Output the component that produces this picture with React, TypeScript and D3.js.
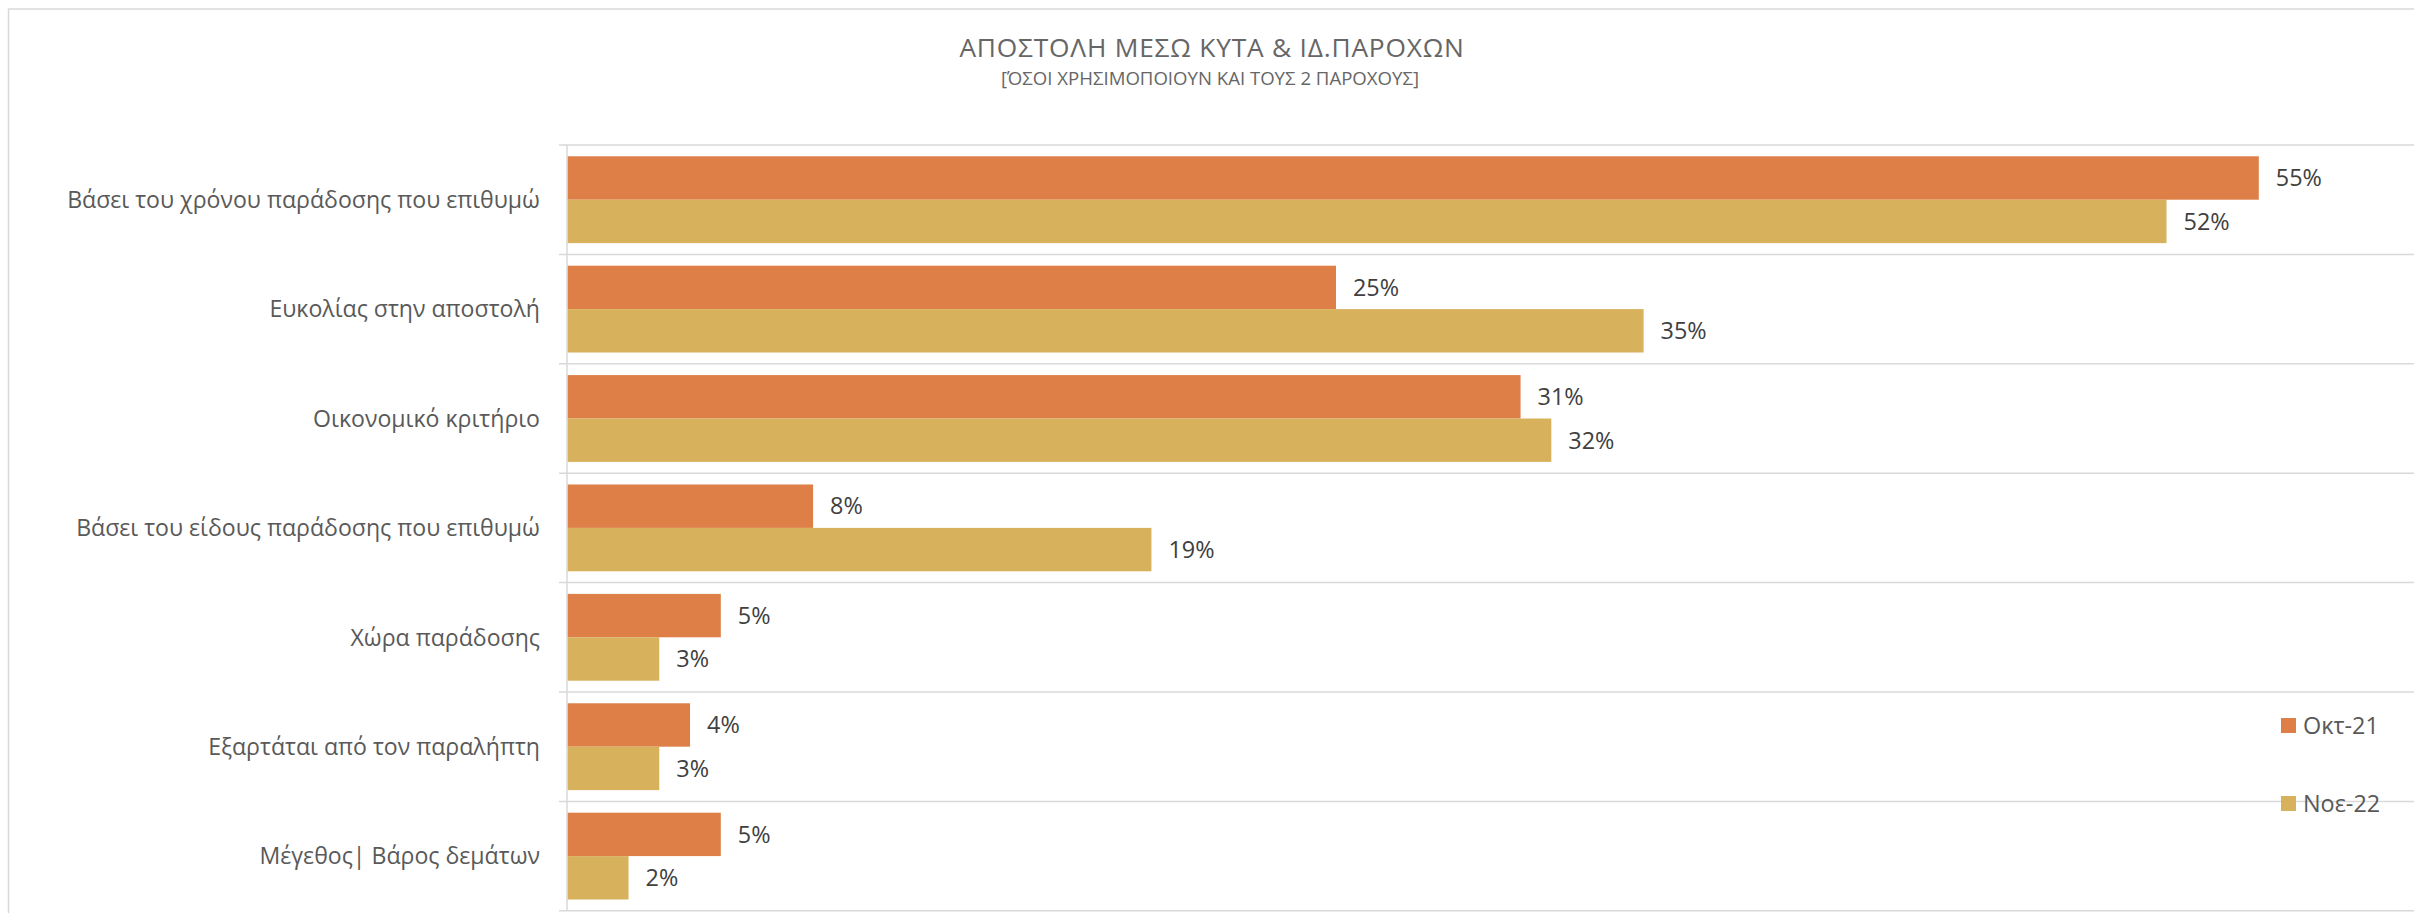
import React from "react";
import * as d3 from "d3";

const categories = [
  "Βάσει του χρόνου παράδοσης που επιθυμώ",
  "Ευκολίας στην αποστολή",
  "Οικονομικό κριτήριο",
  "Βάσει του είδους παράδοσης που επιθυμώ",
  "Χώρα παράδοσης",
  "Εξαρτάται από τον παραλήπτη",
  "Μέγεθος| Βάρος δεμάτων",
];
const seriesNames = ["Οκτ-21", "Νοε-22"];
const okt21 = [0.55, 0.25, 0.31, 0.08, 0.05, 0.04, 0.05];
const noe22 = [0.52, 0.35, 0.32, 0.19, 0.03, 0.03, 0.02];
const seriesColors = ["#DD7F47", "#D8B15D"];
const title = "ΑΠΟΣΤΟΛΗ ΜΕΣΩ ΚΥΤΑ & ΙΔ.ΠΑΡΟΧΩΝ";
const subtitle = "[ΌΣΟΙ ΧΡΗΣΙΜΟΠΟΙΟΥΝ ΚΑΙ ΤΟΥΣ 2 ΠΑΡΟΧΟΥΣ]";

const W = 2414;
const H = 913;
const FONT = "'Open Sans', sans-serif";

export default function App() {
  const series = [okt21, noe22];
  const x = d3.scaleLinear().domain([0, 0.6]).range([567, 2412.6]);
  const y = d3.scaleBand<string>().domain(categories).range([145, 910.8]).paddingInner(0).paddingOuter(0);
  const yInner = d3
    .scaleBand<string>()
    .domain(seriesNames)
    .range([0, y.bandwidth()])
    .paddingInner(0)
    .paddingOuter(0.26);
  const fmt = d3.format(".0%");
  const gridYs = categories.map((c) => y(c) as number).concat([y.range()[1]]);

  return (
    <svg
      width={W}
      height={H}
      style={{ position: "absolute", left: 0, top: 0, display: "block" }}
      fontFamily={FONT}
    >
      <rect x={0} y={0} width={W} height={H} fill="#fff" />
      <rect x={8.5} y={9} width={3000} height={2000} fill="#fff" stroke="#D9D9D9" strokeWidth={1.5} />
      <text x={1212} y={57} textAnchor="middle" fontSize={26.3} letterSpacing={0.8} fill="#666666">
        {title}
      </text>
      <text x={1210} y={85} textAnchor="middle" fontSize={18.6} fill="#666666">
        {subtitle}
      </text>
      {gridYs.map((gy, i) => (
        <line key={"g" + i} x1={559} x2={W} y1={gy} y2={gy} stroke="#D9D9D9" strokeWidth={1.5} />
      ))}
      <line x1={x(0)} x2={x(0)} y1={y.range()[0]} y2={y.range()[1]} stroke="#D9D9D9" strokeWidth={1.5} />
      {categories.map((c, ci) => (
        <g key={c}>
          <text
            x={540}
            y={(y(c) as number) + y.bandwidth() / 2 + 8.3}
            textAnchor="end"
            fontSize={23.1}
            fill="#595959"
          >
            {c}
          </text>
          {seriesNames.map((s, si) => {
            const v = series[si][ci];
            const by = (y(c) as number) + (yInner(s) as number);
            const bh = yInner.bandwidth();
            return (
              <g key={s}>
                <rect x={x(0) + 0.75} y={by} width={x(v) - x(0) - 0.75} height={bh} fill={seriesColors[si]} />
                <text x={x(v) + 17} y={by + bh / 2 + 8.3} fontSize={23.4} fill="#404040">
                  {fmt(v)}
                </text>
              </g>
            );
          })}
        </g>
      ))}
      {seriesNames.map((s, si) => (
        <g key={"lg" + s} transform={`translate(2281, ${718 + si * 78})`}>
          <rect x={0} y={0} width={15} height={15} fill={seriesColors[si]} />
          <text x={22} y={7.5 + 8.3} fontSize={23.4} fill="#595959">
            {s}
          </text>
        </g>
      ))}
    </svg>
  );
}
